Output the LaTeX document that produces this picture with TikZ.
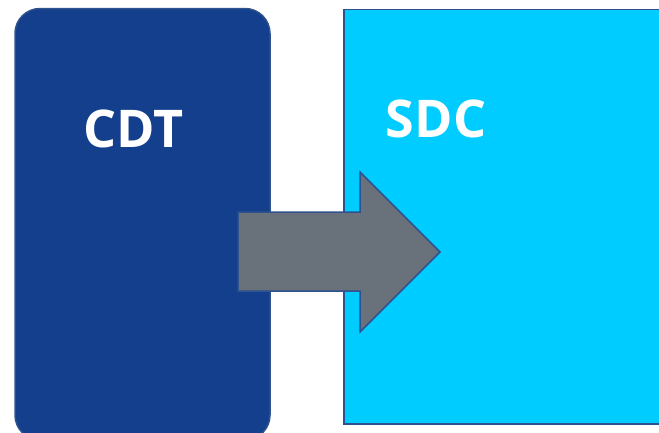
\documentclass[tikz,border=0pt]{standalone}
\usepackage{fontspec}
\setmainfont{Open Sans}
\usepackage{tikz}
\usetikzlibrary{positioning}
\definecolor{cdtColor}{HTML}{133F8C}
\definecolor{sdcColor}{HTML}{00CCFF}
\definecolor{arrowColor}{HTML}{69717A}
\definecolor{edgeColor}{HTML}{2F528F}

\begin{document}
\begin{tikzpicture}[x=1pt, y=-1pt,
    boxText/.style={text=white, font=\fontsize{52}{52}\selectfont\bfseries, inner sep=0pt}]
        \useasboundingbox (0,0) rectangle (659,432);
        % left block
        \draw[edgeColor, line width=1.5pt, fill=cdtColor, rounded corners=25pt] (15,8.5) rectangle (270,440);
        % right block
        \draw[edgeColor, line width=1.5pt, fill=sdcColor] (344,9.5) rectangle (680,424);
        % block arrow
        \draw[edgeColor, line width=1.5pt, fill=arrowColor, line join=miter]
            (238,212) -- (360,212) -- (360,172) -- (440,252) -- (360,332) -- (360,291) -- (238,291) -- cycle;
        \node (cdt) [boxText] at (133.5,129) {CDT};
        \node (sdc) [boxText] at (436,118.5) {SDC};
    \end{tikzpicture}
\end{document}
